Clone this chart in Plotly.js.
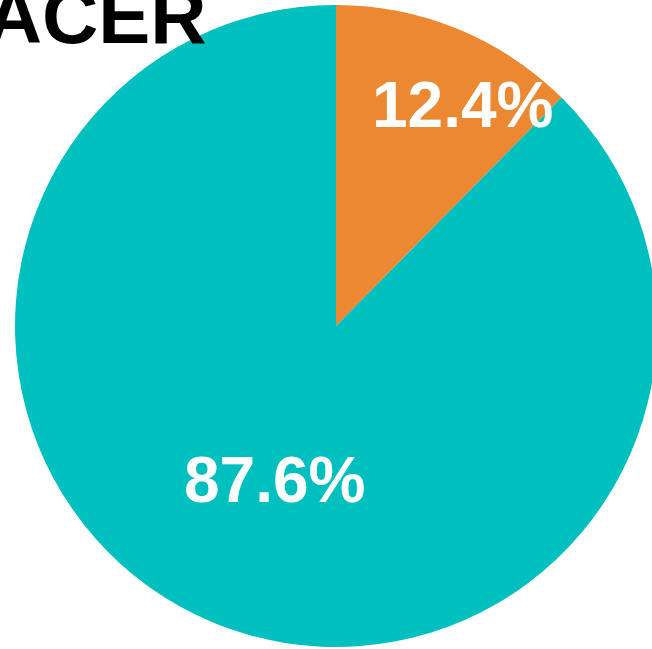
<!DOCTYPE html>
<html>
<head>
<meta charset="utf-8">
<script src="https://cdn.plot.ly/plotly-3.0.1.min.js"></script>
<style>
  html, body { margin: 0; padding: 0; overflow: hidden; background: #fff; }
  #chart { width: 672px; height: 652px; }
</style>
</head>
<body>
<div id="chart"></div>
<script>
const labels = ["Share A", "Share B"];
const values = [12.4, 87.6];
const sliceColors = ["#EC8832", "#00BFBF"];
const titleText = "PLACER";
// label centres, in pixels of the chart area
const labelPosX = [462.5, 274.5];
const labelPosY = [105, 480];

const W = 672, H = 652;
const total = values.reduce((a, b) => a + b, 0);
const pctText = values.map(v => (100 * v / total).toFixed(1) + "%");
const labelFont = { family: "Liberation Sans, Arial, sans-serif", size: 64, color: "#ffffff", weight: "bold" };

const trace = {
  type: "pie",
  labels: labels,
  values: values,
  sort: false,
  direction: "clockwise",
  rotation: 0,
  marker: { colors: sliceColors, line: { width: 0 } },
  textinfo: "none",
  hoverinfo: "none",
  domain: { x: [0, 1], y: [5 / H, 647 / H] }
};

const annotations = [{
  text: "<b>" + titleText + "</b>",
  xref: "paper", yref: "paper",
  x: 209 / W, y: 1 - 62 / H,
  xanchor: "right", yanchor: "bottom",
  showarrow: false,
  font: { family: "Liberation Sans Narrow, sans-serif", size: 78, color: "#000000" }
}];
pctText.forEach((t, i) => {
  annotations.push({
    text: "<b>" + t + "</b>",
    xref: "paper", yref: "paper",
    x: labelPosX[i] / W, y: 1 - labelPosY[i] / H,
    xanchor: "center", yanchor: "middle",
    showarrow: false,
    font: labelFont
  });
});

const layout = {
  width: W,
  height: H,
  margin: { l: 0, r: 0, t: 0, b: 0, pad: 0 },
  paper_bgcolor: "#ffffff",
  showlegend: false,
  annotations: annotations
};

Plotly.newPlot("chart", [trace], layout, { staticPlot: true, displayModeBar: false });
</script>
</body>
</html>
